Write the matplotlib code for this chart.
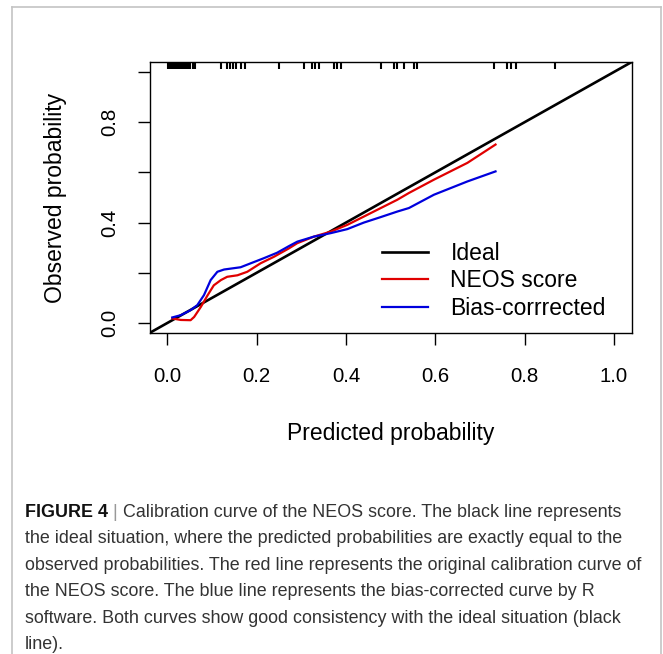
import matplotlib
matplotlib.use("Agg")
import matplotlib.pyplot as plt
from matplotlib.lines import Line2D

plt.rcParams['font.family'] = ['Liberation Sans', 'DejaVu Sans']

# calibration curves
neos_x = [0.011, 0.03, 0.052, 0.06, 0.075, 0.09, 0.104, 0.12, 0.134, 0.157, 0.179,
          0.209, 0.239, 0.272, 0.291, 0.328, 0.366, 0.403, 0.44, 0.478, 0.515,
          0.541, 0.597, 0.672, 0.735]
neos_y = [0.018, 0.012, 0.011, 0.024, 0.064, 0.11, 0.15, 0.171, 0.184, 0.19, 0.204,
          0.238, 0.264, 0.297, 0.318, 0.344, 0.364, 0.391, 0.424, 0.458, 0.491,
          0.518, 0.571, 0.638, 0.711]
bias_x = [0.011, 0.03, 0.052, 0.067, 0.082, 0.097, 0.112, 0.127, 0.164, 0.187, 0.216,
          0.246, 0.272, 0.291, 0.328, 0.366, 0.403, 0.44, 0.478, 0.515, 0.541,
          0.597, 0.672, 0.735]
bias_y = [0.022, 0.031, 0.051, 0.071, 0.111, 0.171, 0.204, 0.213, 0.222, 0.238, 0.258,
          0.28, 0.306, 0.324, 0.344, 0.358, 0.374, 0.40, 0.422, 0.444, 0.458,
          0.511, 0.564, 0.604]
# rug of predicted probabilities (top of plot)
rug_x = [0.002, 0.005, 0.008, 0.011, 0.014, 0.017, 0.02, 0.023, 0.026, 0.029, 0.032,
         0.035, 0.038, 0.041, 0.044, 0.047, 0.05, 0.057, 0.062,
         0.12, 0.134, 0.14, 0.146, 0.153, 0.164, 0.175, 0.25, 0.306, 0.325, 0.33,
         0.34, 0.373, 0.38, 0.388, 0.478, 0.507, 0.515, 0.53, 0.552, 0.56,
         0.731, 0.761, 0.769, 0.78, 0.869]

ticks = [0.0, 0.2, 0.4, 0.6, 0.8, 1.0]
x_labels = ['0.0', '0.2', '0.4', '0.6', '0.8', '1.0']
y_labels = ['0.0', '', '0.4', '', '0.8', '']
legend_labels = ['Ideal', 'NEOS score', 'Bias-corrrected']

caption = [
    "the ideal situation, where the predicted probabilities are exactly equal to the",
    "observed probabilities. The red line represents the original calibration curve of",
    "the NEOS score. The blue line represents the bias-corrected curve by R",
    "software. Both curves show good consistency with the ideal situation (black",
    "line).",
]

W, H = 663, 654
fig = plt.figure(figsize=(W / 100, H / 100), dpi=100)
ax = fig.add_axes([149.5 / W, 1 - 333 / H, (631.7 - 149.5) / W, (333 - 62) / H])

ax.axline((0, 0), slope=1, color='black', lw=1.9, label=legend_labels[0])
ax.plot(neos_x, neos_y, color='#e00000', lw=1.6, label=legend_labels[1])
ax.plot(bias_x, bias_y, color='#0000dd', lw=1.6, label=legend_labels[2])
ax.vlines(rug_x, 0.976, 1.0, color='black', lw=1.5, transform=ax.get_xaxis_transform())

ax.set_xlim(-0.04, 1.04)
ax.set_ylim(-0.04, 1.04)
ax.set_xticks(ticks)
ax.set_xticklabels(x_labels)
ax.set_yticks(ticks)
ax.set_yticklabels(y_labels, rotation=90, va='center')
ax.tick_params(length=8.6, width=1.0, labelsize=14.7, pad=16)
ax.tick_params(axis='y', pad=13)
for s in ax.spines.values():
    s.set_linewidth(1.0)

ax.set_xlabel('Predicted probability', fontsize=16.5, labelpad=25.5)
ax.set_ylabel('Observed probability', fontsize=16.5, labelpad=24)

ax.legend(loc='lower left', bbox_to_anchor=((381.7 - 149.5) / (631.7 - 149.5), (333 - 320) / (333 - 62)),
          frameon=False, fontsize=16.5, handlelength=2.0, handletextpad=1.0,
          labelspacing=0.2, borderpad=0, borderaxespad=0)

# outer frame of the figure panel
frame = '#c4c4c4'
fig.add_artist(Line2D([12 / W, 12 / W], [0, 1 - 7 / H], color=frame, lw=1.2))
fig.add_artist(Line2D([12 / W, 661 / W], [1 - 7 / H, 1 - 7 / H], color=frame, lw=1.2))
fig.add_artist(Line2D([661 / W, 661 / W], [0, 1 - 7 / H], color=frame, lw=1.2))

# caption
cap_font = ['Liberation Sans']
cap_size = 12.9
base = 517
t1 = fig.text(25 / W, 1 - base / H, 'FIGURE 4', fontsize=cap_size, fontweight='bold',
              family=cap_font, color='#111111', va='baseline')
fig.canvas.draw()
bb = t1.get_window_extent()
t2 = fig.text(bb.x1 / W, 1 - base / H, ' | ', fontsize=cap_size, family=cap_font,
              color='#999999', va='baseline')
fig.canvas.draw()
bb2 = t2.get_window_extent()
fig.text(bb2.x1 / W, 1 - base / H, 'Calibration curve of the NEOS score. The black line represents',
         fontsize=cap_size, family=cap_font, color='#333333', va='baseline')
for i, line in enumerate(caption):
    fig.text(25 / W, 1 - (base + 26.4 * (i + 1)) / H, line, fontsize=cap_size,
             family=cap_font, color='#333333', va='baseline')

fig.savefig('out.png', dpi=100)
